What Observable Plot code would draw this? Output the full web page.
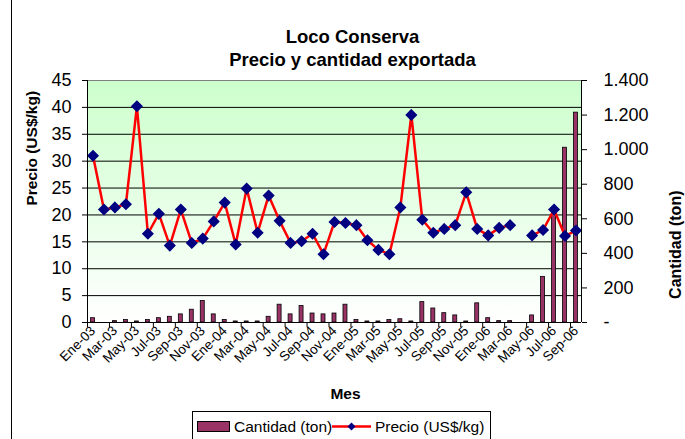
<!DOCTYPE html>
<html><head><meta charset="utf-8">
<script src="https://cdn.jsdelivr.net/npm/d3@7"></script>
<script src="https://cdn.jsdelivr.net/npm/@observablehq/plot@0.6"></script>
<style>
body{margin:0;background:#fff;}
#wrap{position:relative;width:685px;height:439px;overflow:hidden;font-family:"Liberation Sans",Arial,sans-serif;background:#fff;}
#wrap svg{position:absolute;left:0;top:0;}
#border{position:absolute;left:11px;top:-2px;width:0;height:445px;border-left:1px solid #000;}
#legend{position:absolute;left:192px;top:411px;width:297px;height:32px;border:1px solid #000;background:#fff;font-size:15.5px;color:#000;}
#legend .it{position:absolute;top:6px;white-space:nowrap;}
</style></head><body><div id="wrap"><div id="border"></div></div>
<script>
const meses = ["Ene-03","Feb-03","Mar-03","Abr-03","May-03","Jun-03","Jul-03","Ago-03","Sep-03","Oct-03","Nov-03","Dic-03",
  "Ene-04","Feb-04","Mar-04","Abr-04","May-04","Jun-04","Jul-04","Ago-04","Sep-04","Oct-04","Nov-04","Dic-04",
  "Ene-05","Feb-05","Mar-05","Abr-05","May-05","Jun-05","Jul-05","Ago-05","Sep-05","Oct-05","Nov-05","Dic-05",
  "Ene-06","Feb-06","Mar-06","Abr-06","May-06","Jun-06","Jul-06","Ago-06","Sep-06"];
const precio = [31.0, 21.0, 21.4, 22.0, 40.2, 16.5, 20.2, 14.3, 21.0, 14.8, 15.6, 18.8,
  22.3, 14.5, 24.9, 16.7, 23.6, 18.9, 14.8, 15.1, 16.5, 12.7, 18.7, 18.5,
  18.1, 15.3, 13.5, 12.7, 21.4, 38.6, 19.1, 16.7, 17.4, 18.1, 24.2, 17.4,
  16.2, 17.6, 18.1, null, 16.2, 17.2, 21.0, 16.1, 17.1];
const cantidad = [25, null, 8, 14, 6, 14, 25, 33, 47, 74, 124, 47,
  14, 6, 6, 6, 33, 103, 47, 95, 52, 47, 52, 103,
  14, 6, 6, 14, 19, 6, 118, 81, 54, 41, 6, 111,
  25, 8, 8, null, 41, 264, 652, 1011, 1214];
const precioTicks = [0, 5, 10, 15, 20, 25, 30, 35, 40, 45];
const cantidadTicks = [0, 200, 400, 600, 800, 1000, 1200, 1400];
const etiquetasX = ["Ene-03","Mar-03","May-03","Jul-03","Sep-03","Nov-03","Ene-04","Mar-04","May-04","Jul-04","Sep-04","Nov-04",
  "Ene-05","Mar-05","May-05","Jul-05","Sep-05","Nov-05","Ene-06","Mar-06","May-06","Jul-06","Sep-06"];

const data = meses.map((m, i) => ({mes: m, precio: precio[i], cantidad: cantidad[i]}));
const k = 45 / 1400;
const W = 685, H = 439, mL = 87, mR = 104, mT = 80, mB = 117;
const bw = (W - mL - mR) / meses.length;
const pxPerUnit = (H - mT - mB) / 45;
const fmtQ = v => v === 0 ? "-" : d3.format(",")(v).replace(/,/g, ".");
const font = '"Liberation Sans", Arial, sans-serif';

const chart = Plot.plot({
  width: W, height: H, marginLeft: mL, marginRight: mR, marginTop: mT, marginBottom: mB,
  style: {fontFamily: font, background: "transparent", color: "black", overflow: "visible"},
  x: {type: "band", domain: meses, paddingInner: 0, paddingOuter: 0, axis: null},
  y: {domain: [0, 45], axis: null, label: null},
  marks: [
    Plot.frame({fill: "url(#bgGrad)", stroke: null}),
    Plot.ruleY(precioTicks.filter(v => v > 0 && v < 45), {stroke: "black", strokeWidth: 1}),
    Plot.ruleY([45], {stroke: "#808080", strokeWidth: 1}),
    Plot.barY(data.filter(d => d.cantidad != null), {x: "mes", y: d => d.cantidad * k, fill: "#993366", stroke: "black", strokeWidth: 0.8, insetLeft: 3.5, insetRight: 3.5}),
    Plot.line(data, {x: "mes", y: "precio", stroke: "#ff0000", strokeWidth: 2.5}),
    Plot.dot(data, {x: "mes", y: "precio", symbol: "diamond2", r: 4.5, fill: "#000080", stroke: "#000080"}),
    Plot.ruleY([0], {stroke: "black", strokeWidth: 1}),
    Plot.ruleX([meses[0]], {x: d => d, dx: -bw / 2, y1: 0, y2: 45, stroke: "black"}),
    Plot.ruleX([meses[meses.length - 1]], {x: d => d, dx: bw / 2, y1: 0, y2: 45, stroke: "black"}),
    Plot.ruleX(etiquetasX, {x: d => d, dx: -bw / 2, y1: 0, y2: -5 / pxPerUnit, stroke: "black"}),
    Plot.axisY({anchor: "left", ticks: precioTicks, tickSize: 5, tickPadding: 11, fontSize: 18, label: null}),
    Plot.axisY({anchor: "right", ticks: cantidadTicks.map(v => v * k), tickFormat: v => fmtQ(Math.round(v / k)), tickSize: 5, tickPadding: 17, textAnchor: "start", fontSize: 18, label: null}),
    Plot.axisX({ticks: etiquetasX, tickSize: 0, tickRotate: -45, tickPadding: 6, fontSize: 13.5, label: null}),
    Plot.text(["Precio (US$/kg)"], {frameAnchor: "left", dx: -55, dy: 4, rotate: -90, lineAnchor: "middle", fontWeight: "bold", fontSize: 15.5}),
    Plot.text(["Cantidad (ton)"], {frameAnchor: "right", dx: 94, dy: -11, rotate: -90, lineAnchor: "middle", fontWeight: "bold", fontSize: 16}),
    Plot.text(["Mes"], {frameAnchor: "bottom", dx: 11, dy: 72, lineAnchor: "middle", fontWeight: "bold", fontSize: 15.5}),
    Plot.text(["Loco Conserva"], {frameAnchor: "top", dx: 18, dy: -43, lineAnchor: "middle", fontWeight: "bold", fontSize: 18.5}),
    Plot.text(["Precio y cantidad exportada"], {frameAnchor: "top", dx: 18, dy: -20, lineAnchor: "middle", fontWeight: "bold", fontSize: 18.5})
  ]
});

const defs = d3.select(chart).insert("defs", ":first-child");
const grad = defs.append("linearGradient").attr("id", "bgGrad").attr("x1", 0).attr("y1", 0).attr("x2", 0).attr("y2", 1);
grad.append("stop").attr("offset", "0%").attr("stop-color", "#ccffcc");
grad.append("stop").attr("offset", "100%").attr("stop-color", "#ffffff");

const wrap = document.getElementById("wrap");
wrap.appendChild(chart);

const legend = document.createElement("div");
legend.id = "legend";
legend.innerHTML =
  '<svg width="34" height="12" style="position:absolute;left:4px;top:9px"><rect x="0.5" y="0.5" width="32" height="10" fill="#993366" stroke="#000" stroke-width="1"/></svg>' +
  '<span class="it" style="left:41px">Cantidad (ton)</span>' +
  '<svg width="40" height="12" style="position:absolute;left:139px;top:9px"><line x1="0" y1="5.5" x2="39" y2="5.5" stroke="#ff0000" stroke-width="2.5"/><path d="M19.5,1.5 L23.5,5.5 L19.5,9.5 L15.5,5.5Z" fill="#000080"/></svg>' +
  '<span class="it" style="left:182px">Precio (US$/kg)</span>';
wrap.appendChild(legend);
</script>
</body></html>
